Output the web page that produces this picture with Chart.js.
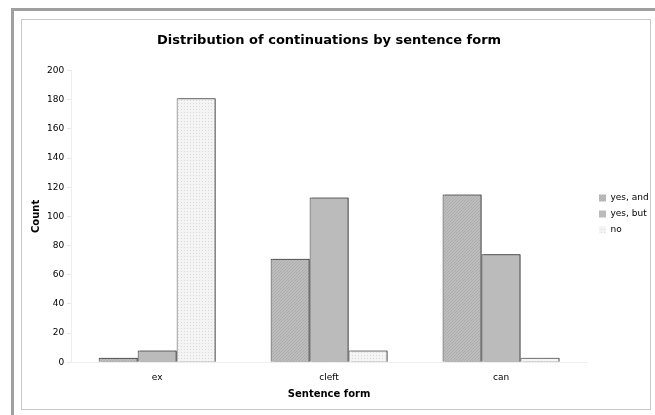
<!DOCTYPE html>
<html>
<head>
<meta charset="utf-8">
<script src="https://cdn.jsdelivr.net/npm/chart.js@4.4.1/dist/chart.umd.min.js"></script>
<style>
  body { margin: 0; background: #fff; }
  #frame { position: absolute; left: 11px; top: 8px; width: 700px; height: 460px;
           border-left: 3px solid #a0a0a0; border-top: 3px solid #a0a0a0; }
  #box { position: absolute; left: 21px; top: 19px; width: 628px; height: 389px;
         border: 1px solid #c8c8c8; }
  #wrap { position: absolute; left: 0; top: 0; width: 655px; height: 415px; }
</style>
</head>
<body>
<div id="frame"></div>
<div id="box"></div>
<div id="wrap"><canvas id="myChart" width="655" height="415"></canvas></div>
<script>
// categorias y valores
const categories = ['ex', 'cleft', 'can'];
const seriesNames = ['yes, and', 'yes, but', 'no'];
const yesAnd = [3, 71, 115];
const yesBut = [8, 113, 74];
const noCont = [181, 8, 3];
const yTicks = [0, 20, 40, 60, 80, 100, 120, 140, 160, 180, 200];

// rellenos con textura (rayado fino y punteado)
function hatchPattern() {
    const c = document.createElement('canvas');
    c.width = 3; c.height = 3;
    const g = c.getContext('2d');
    g.fillStyle = '#bdbdbd';
    g.fillRect(0, 0, 3, 3);
    g.fillStyle = '#acacac';
    for (let i = 0; i < 3; i++) g.fillRect(i, 2 - i, 1, 1);
    return g.createPattern(c, 'repeat');
}
function dotPattern() {
    const c = document.createElement('canvas');
    c.width = 3; c.height = 3;
    const g = c.getContext('2d');
    g.fillStyle = '#f4f4f4';
    g.fillRect(0, 0, 3, 3);
    g.fillStyle = '#d9d9d9';
    g.fillRect(1, 1, 1, 1);
    return g.createPattern(c, 'repeat');
}

// sombra a la derecha de las barras
const barShadow = {
    id: 'barShadow',
    beforeDatasetsDraw(chart) {
        const ctx = chart.ctx;
        ctx.save();
        ctx.shadowColor = 'rgba(0,0,0,0.5)';
        ctx.shadowOffsetX = 2;
        ctx.shadowOffsetY = 0;
        ctx.shadowBlur = 0;
    },
    afterDatasetsDraw(chart) {
        chart.ctx.restore();
    }
};

// ancho fijo de la leyenda, y se corre un poco
const legendFit = {
    id: 'legendFit',
    beforeLayout(chart) {
        const lg = chart.legend;
        if (lg && !lg._fixed) {
            const orig = lg.fit;
            lg.fit = function() {
                orig.call(this);
                this.width = 68;
            };
            lg._fixed = true;
        }
    },
    afterLayout(chart) {
        const lg = chart.legend;
        if (lg) {
            lg.left += 5;
            lg.right += 5;
            lg.top += 3;
            lg.bottom += 3;
        }
    }
};

const font = 'DejaVu Sans';
const ctx = document.getElementById('myChart').getContext('2d');
const myChart = new Chart(ctx, {
    type: 'bar',
    data: {
        labels: categories,
        datasets: [{
            label: seriesNames[0],
            data: yesAnd,
            backgroundColor: hatchPattern(),
            borderColor: '#333333',
            borderWidth: 1
        }, {
            label: seriesNames[1],
            data: yesBut,
            backgroundColor: '#bbbbbb',
            borderColor: '#333333',
            borderWidth: 1
        }, {
            label: seriesNames[2],
            data: noCont,
            backgroundColor: dotPattern(),
            borderColor: '#555555',
            borderWidth: 1
        }]
    },
    plugins: [barShadow, legendFit],
    options: {
        responsive: false,
        animation: false,
        categoryPercentage: 0.68,
        barPercentage: 1.0,
        layout: { padding: { left: 30, right: 0, top: 22, bottom: 15 } },
        plugins: {
            title: {
                display: true,
                fullSize: false,
                text: 'Distribution of continuations by sentence form',
                color: '#000',
                font: { family: font, size: 13, weight: 'bold' },
                padding: { top: 11, bottom: 22 }
            },
            legend: {
                position: 'right',
                labels: {
                    color: '#000',
                    font: { family: font, size: 9 },
                    boxWidth: 7,
                    boxHeight: 7,
                    padding: 7,
                    generateLabels(chart) {
                        const items = Chart.defaults.plugins.legend.labels.generateLabels(chart);
                        items.forEach(it => { it.lineWidth = 0; });
                        return items;
                    }
                }
            },
            tooltip: { enabled: false }
        },
        scales: {
            x: {
                grid: { display: true, drawOnChartArea: false, color: '#eeeeee', tickLength: 0 },
                border: { color: '#eeeeee' },
                ticks: { color: '#000', font: { family: font, size: 9 }, padding: 10 },
                title: {
                    display: true, text: 'Sentence form', color: '#000',
                    font: { family: font, size: 10, weight: 'bold' },
                    padding: { top: -5, bottom: 0 }
                }
            },
            y: {
                min: 0,
                max: 200,
                afterBuildTicks(scale) {
                    scale.ticks = yTicks.map(v => ({ value: v }));
                },
                grid: { display: true, drawOnChartArea: false, color: '#e6e6e6', tickLength: 4 },
                border: { color: '#eeeeee' },
                ticks: { color: '#000', font: { family: font, size: 9 }, padding: 3 },
                title: {
                    display: true, text: 'Count', color: '#000',
                    font: { family: font, size: 10, weight: 'bold' },
                    padding: { top: 0, bottom: 2 }
                }
            }
        }
    }
});
</script>
</body>
</html>
